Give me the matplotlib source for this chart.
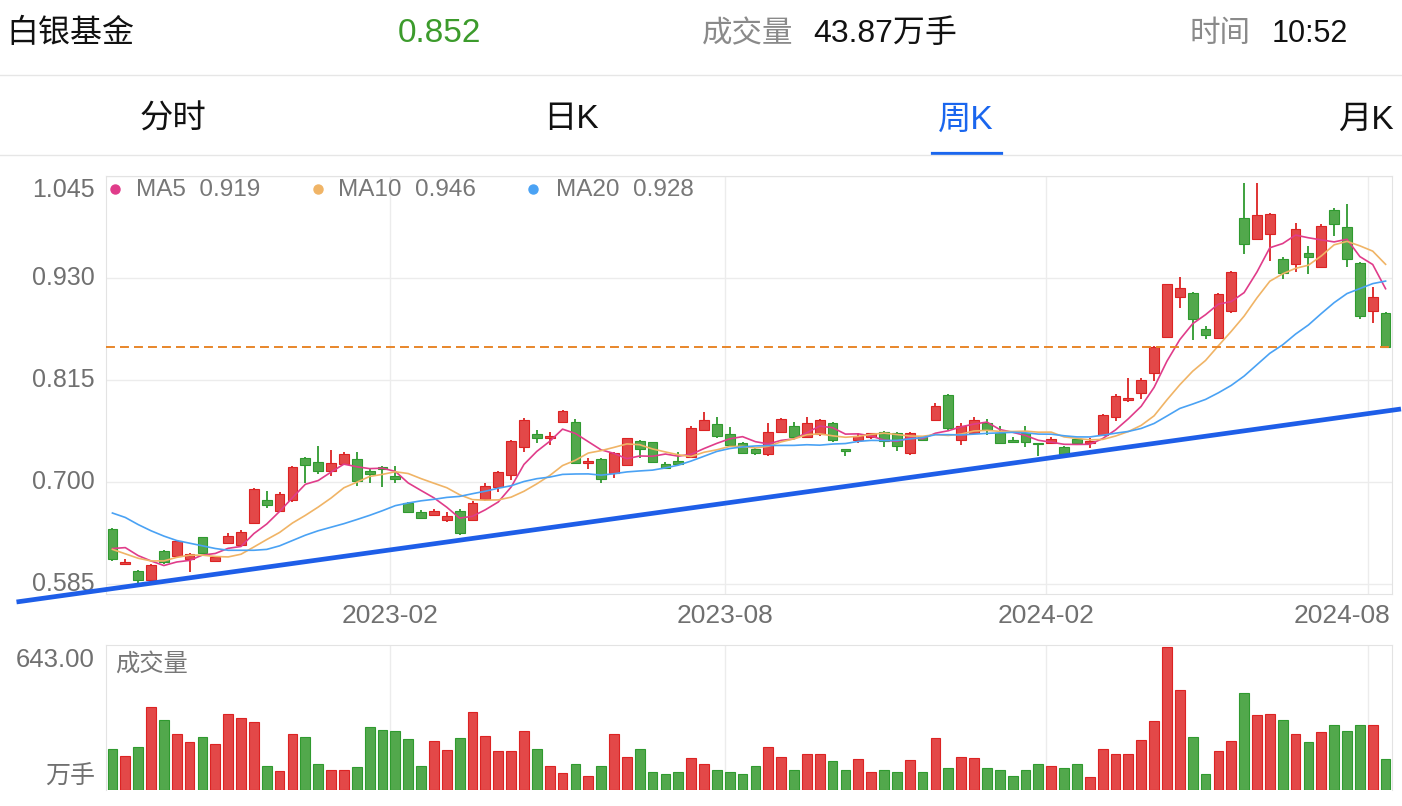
import numpy as np
import pandas as pd
import matplotlib
matplotlib.use('Agg')
import matplotlib.pyplot as plt
from matplotlib.lines import Line2D

# 字体: 拉丁字符用 Liberation Sans, 中文回退到 Noto Sans CJK SC
plt.rcParams['font.family'] = ['Liberation Sans', 'Noto Sans CJK SC']

# 周K 数据 (从图上读取, 共 100 周)
opens = [0.647, 0.607, 0.5995, 0.589, 0.622, 0.616, 0.613, 0.6375, 0.611, 0.6315,
         0.6285, 0.654, 0.680, 0.667, 0.6796, 0.7274, 0.7228, 0.7127, 0.720, 0.7255,
         0.7124, 0.7172, 0.7063, 0.6758, 0.666, 0.6627, 0.6575, 0.6672, 0.657, 0.6804,
         0.694, 0.7079, 0.7391, 0.7537, 0.750, 0.768, 0.7673, 0.7214, 0.7255, 0.7097,
         0.719, 0.7462, 0.7447, 0.720, 0.7237, 0.7285, 0.7583, 0.765, 0.7545, 0.7443,
         0.7368, 0.7315, 0.7567, 0.7635, 0.751, 0.754, 0.767, 0.7372, 0.7473, 0.7503,
         0.7563, 0.7548, 0.733, 0.7503, 0.770, 0.798, 0.7473, 0.7556, 0.7661, 0.7556,
         0.7473, 0.7548, 0.7443, 0.7443, 0.7398, 0.748, 0.7435, 0.7525, 0.7735, 0.7923,
         0.8006, 0.8232, 0.863, 0.9089, 0.9127, 0.872, 0.8619, 0.8927, 0.9972, 0.9736,
         0.9792, 0.9518, 0.9454, 0.9585, 0.9427, 1.0066, 0.9875, 0.9465, 0.8927, 0.890]
highs = [0.648, 0.613, 0.601, 0.607, 0.623, 0.6345, 0.620, 0.638, 0.616, 0.642,
         0.646, 0.6935, 0.690, 0.689, 0.718, 0.7285, 0.741, 0.736, 0.7334, 0.734,
         0.7153, 0.718, 0.718, 0.677, 0.668, 0.670, 0.6657, 0.6695, 0.678, 0.6985,
         0.7124, 0.747, 0.7725, 0.7586, 0.756, 0.7812, 0.771, 0.7267, 0.7267, 0.734,
         0.750, 0.747, 0.7455, 0.723, 0.734, 0.7635, 0.7793, 0.7737, 0.7624, 0.7455,
         0.738, 0.766, 0.7725, 0.768, 0.7737, 0.7707, 0.768, 0.7372, 0.7556, 0.7556,
         0.7579, 0.7567, 0.756, 0.751, 0.7894, 0.7988, 0.7661, 0.7729, 0.7707, 0.7631,
         0.7503, 0.7631, 0.7443, 0.751, 0.7406, 0.7498, 0.7498, 0.7762, 0.7987, 0.8168,
         0.8175, 0.8533, 0.9228, 0.9315, 0.9142, 0.8758, 0.9134, 0.9379, 1.0367, 1.0375,
         1.0036, 0.954, 0.9924, 0.966, 0.9905, 1.0093, 1.013, 0.948, 0.9198, 0.8916]
lows = [0.611, 0.607, 0.586, 0.587, 0.607, 0.615, 0.599, 0.619, 0.610, 0.631,
        0.628, 0.654, 0.671, 0.6665, 0.6774, 0.6984, 0.709, 0.7067, 0.7186, 0.696,
        0.6984, 0.694, 0.6984, 0.665, 0.6585, 0.6619, 0.6545, 0.640, 0.6563, 0.678,
        0.689, 0.7023, 0.7342, 0.7436, 0.7417, 0.7673, 0.721, 0.7146, 0.6992, 0.704,
        0.7183, 0.7267, 0.721, 0.7154, 0.7192, 0.7274, 0.7575, 0.750, 0.741, 0.7312,
        0.7304, 0.7293, 0.756, 0.748, 0.750, 0.7518, 0.7455, 0.7293, 0.7436, 0.748,
        0.7398, 0.7353, 0.7304, 0.7466, 0.7692, 0.7586, 0.7417, 0.7548, 0.753, 0.7424,
        0.7436, 0.7398, 0.7293, 0.7436, 0.7315, 0.7423, 0.7386, 0.7517, 0.7686, 0.790,
        0.7938, 0.8138, 0.863, 0.8965, 0.860, 0.8608, 0.8608, 0.890, 0.9566, 0.9736,
        0.9491, 0.9292, 0.9367, 0.9341, 0.9427, 0.9773, 0.9427, 0.8833, 0.8788, 0.852]
closes = [0.613, 0.610, 0.590, 0.606, 0.610, 0.633, 0.619, 0.620, 0.615, 0.639,
          0.6435, 0.6916, 0.674, 0.686, 0.7164, 0.719, 0.7127, 0.7217, 0.731, 0.7014,
          0.7086, 0.715, 0.7037, 0.6657, 0.659, 0.6672, 0.662, 0.6424, 0.676, 0.6958,
          0.7109, 0.7462, 0.770, 0.7496, 0.7522, 0.780, 0.7218, 0.7237, 0.7034, 0.7323,
          0.750, 0.7372, 0.7221, 0.716, 0.7203, 0.7605, 0.7695, 0.7515, 0.7417, 0.7323,
          0.7323, 0.7567, 0.7714, 0.7503, 0.767, 0.770, 0.7473, 0.7353, 0.7518, 0.7548,
          0.7466, 0.7406, 0.7548, 0.7473, 0.7857, 0.7605, 0.763, 0.770, 0.7586, 0.7436,
          0.745, 0.745, 0.7428, 0.7481, 0.7315, 0.7442, 0.746, 0.775, 0.7968, 0.7946,
          0.8145, 0.8525, 0.9228, 0.9183, 0.8841, 0.8653, 0.9123, 0.9371, 0.9687, 1.0006,
          1.0018, 0.936, 0.9848, 0.9536, 0.9886, 0.9905, 0.951, 0.8871, 0.9089, 0.852]
volumes = [181, 152, 193, 372, 312, 251, 212, 236, 206, 340,
           322, 304, 104, 84, 251, 238, 117, 86, 90, 102,
           282, 267, 265, 229, 104, 220, 176, 233, 348, 242,
           175, 175, 265, 184, 104, 74, 117, 62, 108, 250,
           145, 181, 77, 68, 81, 143, 117, 87, 80, 72,
           108, 193, 146, 90, 158, 160, 130, 87, 136, 77,
           86, 80, 134, 80, 232, 98, 146, 143, 95, 86,
           62, 90, 117, 104, 96, 113, 57, 181, 161, 161,
           224, 307, 643, 449, 238, 72, 175, 221, 435, 334,
           342, 315, 250, 215, 261, 291, 265, 289, 291, 136]

# 均线开头几周 (窗口内含图外的数据, 直接从图上读)
ma5_head = [0.625, 0.626, 0.617, 0.611]
ma10_head = [0.624, 0.619, 0.614, 0.611, 0.611, 0.615, 0.6175, 0.6175, 0.616]
ma20_head = [0.665, 0.660, 0.652, 0.645, 0.639, 0.634, 0.631, 0.628, 0.625, 0.623,
             0.623, 0.623, 0.624, 0.628, 0.634, 0.640, 0.645, 0.649, 0.653]
# 图例上显示的均线数值
ma_names = ['MA5', 'MA10', 'MA20']
ma_latest = [0.919, 0.946, 0.928]

# 横轴月份 (所在周的序号)
xtick_idx = [22, 48, 73, 98]
xtick_labels = ['2023-02', '2023-08', '2024-02', '2024-08']
ytick_vals = [0.585, 0.700, 0.815, 0.930, 1.045]

# 手画的趋势线两端 (周序号, 价格)
trend_x = [-7.46, 100.2]
trend_y = [0.5647, 0.7823]

RED, RED_EDGE = '#e34848', '#dc2323'
GREEN, GREEN_EDGE = '#52a84c', '#2f9a2f'
GRAY = '#707070'
MA_COLORS = ['#e03c8a', '#f0b466', '#4aa2f4']

o = np.array(opens); h = np.array(highs); l = np.array(lows); c = np.array(closes)
n = len(c)
x = np.arange(n)
up = c >= o

def ma(win, head):
    m = pd.Series(c).rolling(win).mean().to_numpy()
    m[:win - 1] = head
    return m

ma_lines = [ma(5, ma5_head), ma(10, ma10_head), ma(20, ma20_head)]

W, H = 1402, 806
fig = plt.figure(figsize=(W / 100, H / 100), dpi=100)

def box(left, top, right, bottom):
    return [left / W, 1 - bottom / H, (right - left) / W, (bottom - top) / H]

def ftext(px, py, s, **kw):
    fig.text(px / W, 1 - py / H, s, va='center', **kw)

# ---- 顶部信息栏 ----
ftext(6, 34, '白银基金', fontsize=23, color='#111111')
ftext(398, 34, '0.852', fontsize=24, color='#3c9b2c')
ftext(702, 34, '成交量', fontsize=22, color='#8a8a8a')
ftext(813, 34, '43.87万手', fontsize=23, color='#111111')
ftext(1190, 34, '时间', fontsize=22, color='#8a8a8a')
ftext(1272, 34, '10:52', fontsize=22, color='#111111')
fig.add_artist(Line2D([0, 1], [1 - 75 / H] * 2, color='#e6e6e6', lw=1))

for px, s, col in [(140, '分时', '#111111'), (543, '日K', '#111111'),
                   (938, '周K', '#1a66ee'), (1338, '月K', '#111111')]:
    ftext(px, 120, s, fontsize=24, color=col)
fig.add_artist(Line2D([932 / W, 1001 / W], [1 - 152.5 / H] * 2, color='#1a66ee', lw=2.3))
fig.add_artist(Line2D([0, 1], [1 - 155 / H] * 2, color='#e6e6e6', lw=1))

# ---- K线 ----
ax = fig.add_axes(box(106, 176, 1392, 594))
ax.set_xlim(-0.5, n - 0.5)
ax.set_ylim(0.5737, 1.045)

col = np.where(up, RED, GREEN)
ecol = np.where(up, RED_EDGE, GREEN_EDGE)
ax.vlines(x, l, h, colors=ecol, lw=1.3, zorder=3)
body_bot = np.minimum(o, c)
body_h = np.maximum(np.abs(c - o), 0.0016)
ax.bar(x, body_h, bottom=body_bot, width=0.76, color=col, edgecolor=ecol, lw=0.8, zorder=4)

for m, cc in zip(ma_lines, MA_COLORS):
    ax.plot(x, m, color=cc, lw=1.2, zorder=5)
ax.axhline(c[-1], color='#e8862a', lw=1.4, dashes=(4.6, 2.6), zorder=6)
ax.plot(trend_x, trend_y, color='#1e5ee8', lw=3.4, clip_on=False, zorder=7,
        solid_capstyle='butt')

ax.set_yticks(ytick_vals)
ax.set_xticks(np.array(xtick_idx) - 0.4)
ax.set_xticklabels([])
ax.set_yticklabels([])
ax.tick_params(length=0)
ax.grid(True, color='#ececec', lw=1)
ax.set_axisbelow(True)
for sp in ax.spines.values():
    sp.set_color('#e3e3e3')

for v in ytick_vals:
    dy = -10 if v == ytick_vals[-1] else 0
    ax.annotate(f'{v:.3f}', xy=(0, v), xycoords=('axes fraction', 'data'),
                xytext=(-8, dy), textcoords='offset points', ha='right', va='center',
                fontsize=18, color=GRAY)
for i, (k, lab) in enumerate(zip(xtick_idx, xtick_labels)):
    if i == len(xtick_idx) - 1:
        ax.annotate(lab, xy=(1, 0), xycoords='axes fraction', xytext=(-1, -16),
                    textcoords='offset points', ha='right', va='center', fontsize=19, color=GRAY)
    else:
        ax.annotate(lab, xy=(k - 0.4, 0), xycoords=('data', 'axes fraction'), xytext=(0, -16),
                    textcoords='offset points', ha='center', va='center', fontsize=19, color=GRAY)

# 均线图例
for dot_x, txt_x, name, val, cc in zip([115, 318, 533], [136, 338, 556],
                                       ma_names, ma_latest, MA_COLORS):
    fig.add_artist(Line2D([dot_x / W], [1 - 189 / H], marker='o', ms=6.5, color=cc, lw=0))
    ftext(txt_x, 190, f'{name}  {val:.3f}', fontsize=17.5, color='#777777')

# ---- 成交量 ----
axv = fig.add_axes(box(106, 644.5, 1392, 789.5))
axv.set_xlim(-0.5, n - 0.5)
axv.set_ylim(0, 654)
axv.bar(x, volumes, width=0.76, color=col, edgecolor=ecol, lw=0.8, zorder=3)
axv.set_xticks(np.array(xtick_idx) - 0.4)
axv.set_xticklabels([])
axv.set_yticks([])
axv.tick_params(length=0)
axv.grid(True, axis='x', color='#ececec', lw=1)
axv.set_axisbelow(True)
for sp in axv.spines.values():
    sp.set_color('#e3e3e3')
axv.spines['bottom'].set_visible(False)

ftext(95, 660, f'{max(volumes):.2f}', fontsize=18.5, color=GRAY, ha='right')
ftext(95, 776, '万手', fontsize=18, color=GRAY, ha='right')
ftext(115, 664, '成交量', fontsize=17.5, color='#777777')

fig.savefig('out.png', dpi=100)
